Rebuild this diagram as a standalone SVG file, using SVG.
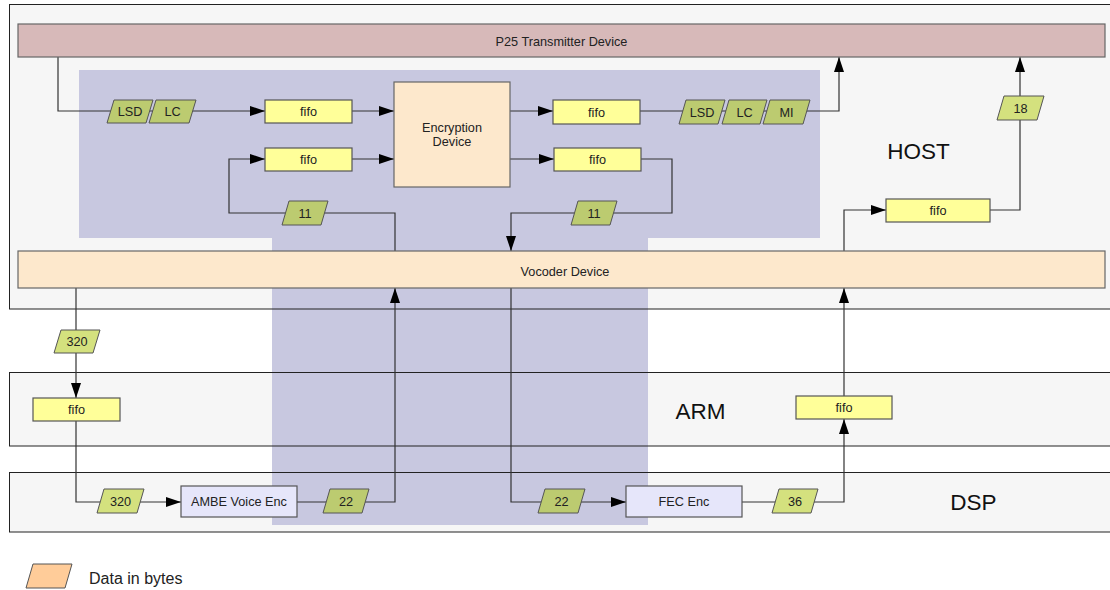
<svg xmlns="http://www.w3.org/2000/svg" width="1110" height="590" viewBox="0 0 1110 590">
<style>
.cont{fill:#f6f6f6;stroke:none}
.contb{fill:none;stroke:#222;stroke-width:1}
.bar{stroke:#666;stroke-width:1.2}
.fifo{fill:#ffff99;stroke:#555;stroke-width:1.2}
.proc{fill:#e6e6fa;stroke:#555;stroke-width:1.2}
.pin{fill:#bccb70;stroke:#555;stroke-width:1}
.pout{fill:#d4e17e;stroke:#555;stroke-width:1}
.t{font-family:"Liberation Sans",Arial,sans-serif;font-size:12.7px;fill:#222;text-anchor:middle}
.big{font-family:"Liberation Sans",Arial,sans-serif;font-size:22.5px;fill:#111;text-anchor:middle}
.conn{fill:none;stroke:#333;stroke-width:1.2}
</style>
<defs>
<marker id="arr" markerUnits="userSpaceOnUse" markerWidth="15" markerHeight="10" refX="15" refY="5" orient="auto">
<path d="M0,0 L15,5 L0,10 z" fill="#000"/>
</marker>
</defs>
<rect width="1110" height="590" fill="#fff"/>
<g id="containers">
<rect class="cont" x="9.5" y="4.5" width="1110" height="304.5"/>
<rect class="cont" x="9.5" y="372.5" width="1110" height="73.5"/>
<rect class="cont" x="9.5" y="472.5" width="1110" height="59.5"/>
<polygon id="region" points="79,70 820,70 820,238 648,238 648,525 272,525 272,238 79,238" fill="#c8c8e0"/>
<rect class="contb" x="9.5" y="4.5" width="1110" height="304.5"/>
<rect class="contb" x="9.5" y="372.5" width="1110" height="73.5"/>
<rect class="contb" x="9.5" y="472.5" width="1110" height="59.5"/>
<text class="big" x="918.5" y="159">HOST</text>
<text class="big" x="700.5" y="419">ARM</text>
<text class="big" x="973.5" y="510">DSP</text>
</g>
<g id="connectors">
<path class="conn" d="M58,57 V111 H265" marker-end="url(#arr)"/>
<path class="conn" d="M352,111 H394" marker-end="url(#arr)"/>
<path class="conn" d="M395,251 V213 H229 V159 H265" marker-end="url(#arr)"/>
<path class="conn" d="M352,159 H394" marker-end="url(#arr)"/>
<path class="conn" d="M510,111 H553" marker-end="url(#arr)"/>
<path class="conn" d="M640,111 H839 V57" marker-end="url(#arr)"/>
<path class="conn" d="M510,159 H554" marker-end="url(#arr)"/>
<path class="conn" d="M641,159 H672 V213 H511 V251" marker-end="url(#arr)"/>
<path class="conn" d="M844,251 V210 H886" marker-end="url(#arr)"/>
<path class="conn" d="M990,210 H1020 V57" marker-end="url(#arr)"/>
<path class="conn" d="M76,288 V398" marker-end="url(#arr)"/>
<path class="conn" d="M76,421 V502 H181" marker-end="url(#arr)"/>
<path class="conn" d="M297,502 H395 V288" marker-end="url(#arr)"/>
<path class="conn" d="M511,288 V502 H626" marker-end="url(#arr)"/>
<path class="conn" d="M742,502 H844 V419" marker-end="url(#arr)"/>
<path class="conn" d="M844,396 V288" marker-end="url(#arr)"/>
</g>
<g id="p25">
<rect class="bar" x="18" y="24" width="1087" height="33" fill="#d7b9b9"/>
<text class="t" x="561.5" y="45.5">P25 Transmitter Device</text>
</g>
<g id="vocoder">
<rect class="bar" x="18" y="251" width="1087" height="37" fill="#fde8cc"/>
<text class="t" x="565" y="276">Vocoder Device</text>
</g>
<g id="encryption">
<rect class="bar" x="394" y="82" width="116" height="105" fill="#fde8cc"/>
<text class="t" x="452" y="132">Encryption</text>
<text class="t" x="452" y="146">Device</text>
</g>
<g id="fifo1"><rect class="fifo" x="265" y="100" width="87" height="23"/><text class="t" x="308.5" y="116">fifo</text></g>
<g id="fifo2"><rect class="fifo" x="265" y="148" width="87" height="23"/><text class="t" x="308.5" y="164">fifo</text></g>
<g id="fifo3"><rect class="fifo" x="553" y="100" width="87" height="24"/><text class="t" x="596.5" y="116.5">fifo</text></g>
<g id="fifo4"><rect class="fifo" x="554" y="148" width="87" height="23"/><text class="t" x="597.5" y="164">fifo</text></g>
<g id="fifo5"><rect class="fifo" x="886" y="199" width="104" height="23"/><text class="t" x="938" y="215">fifo</text></g>
<g id="fifo6"><rect class="fifo" x="33" y="398" width="87" height="23"/><text class="t" x="76.5" y="414">fifo</text></g>
<g id="fifo7"><rect class="fifo" x="796" y="396" width="96" height="23"/><text class="t" x="844" y="412">fifo</text></g>
<g id="ambe"><rect class="proc" x="181" y="486" width="116" height="31"/><text class="t" x="239" y="506">AMBE Voice Enc</text></g>
<g id="fec"><rect class="proc" x="626" y="486" width="116" height="31"/><text class="t" x="684" y="506">FEC Enc</text></g>
<g id="p-lsd1"><polygon class="pin" points="114,100 153,100 146,123 107,123"/><text class="t" x="130" y="116">LSD</text></g>
<g id="p-lc1"><polygon class="pin" points="156,100 196,100 189,123 149,123"/><text class="t" x="172.5" y="116">LC</text></g>
<g id="p-lsd2"><polygon class="pin" points="686,100 725,100 718,124 679,124"/><text class="t" x="702" y="116.5">LSD</text></g>
<g id="p-lc2"><polygon class="pin" points="729,100 767,100 760,124 722,124"/><text class="t" x="744.5" y="116.5">LC</text></g>
<g id="p-mi"><polygon class="pin" points="770,100 810,100 803,124 763,124"/><text class="t" x="786.5" y="116.5">MI</text></g>
<g id="p-11a"><polygon class="pin" points="289,201 328,201 321,225 282,225"/><text class="t" x="305" y="217.5">11</text></g>
<g id="p-11b"><polygon class="pin" points="578,201 617,201 610,225 571,225"/><text class="t" x="594" y="217.5">11</text></g>
<g id="p-18"><polygon class="pout" points="1004,96 1044,96 1037,120 997,120"/><text class="t" x="1020.5" y="112.5">18</text></g>
<g id="p-320a"><polygon class="pout" points="61,330 100,330 93,353 54,353"/><text class="t" x="77" y="346">320</text></g>
<g id="p-320b"><polygon class="pout" points="104,489 144,489 137,513 97,513"/><text class="t" x="120.5" y="505.5">320</text></g>
<g id="p-22a"><polygon class="pin" points="330,489 369,489 362,513 323,513"/><text class="t" x="346" y="505.5">22</text></g>
<g id="p-22b"><polygon class="pin" points="545,489 585,489 578,513 538,513"/><text class="t" x="561.5" y="505.5">22</text></g>
<g id="p-36"><polygon class="pout" points="779,489 818,489 811,513 772,513"/><text class="t" x="795" y="505.5">36</text></g>
<g id="legend">
<polygon points="33,564 72,564 65,588 26,588" fill="#ffcc99" stroke="#555" stroke-width="1"/>
<text x="89" y="584" font-family="'Liberation Sans',Arial,sans-serif" font-size="16" fill="#222">Data in bytes</text>
</g>
</svg>
